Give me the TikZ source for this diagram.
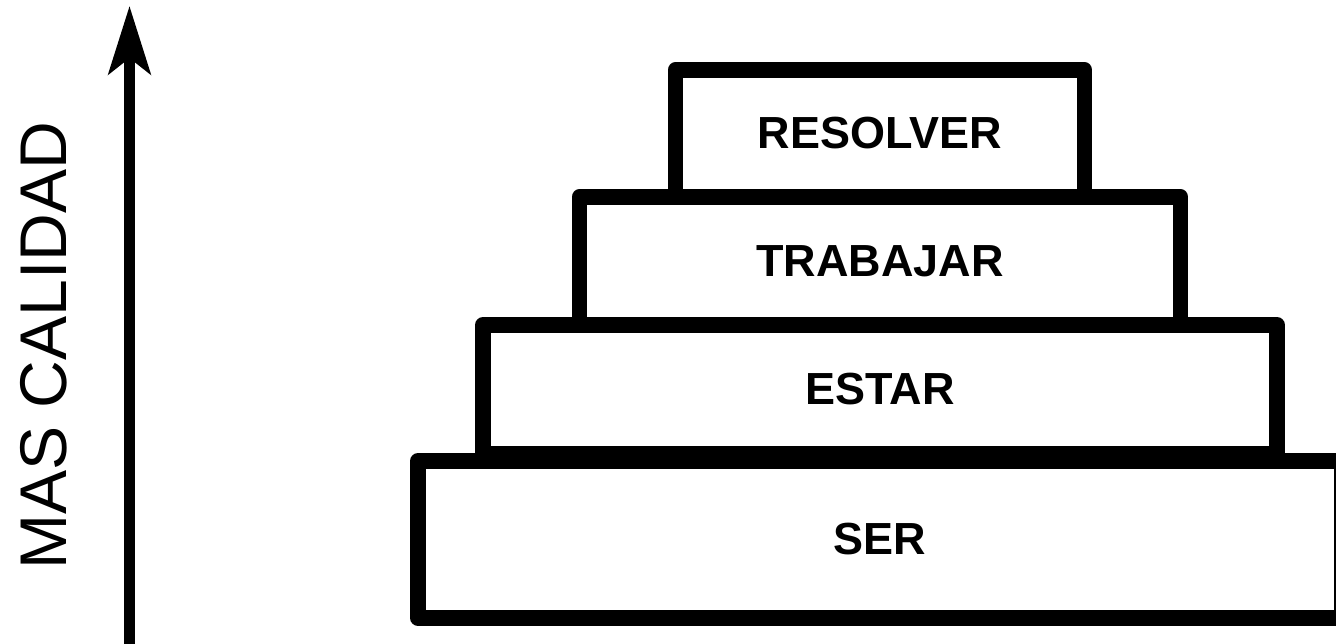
\documentclass[tikz,border=0pt]{standalone}
\usepackage{fontspec}
\setmainfont{Liberation Sans}
\usetikzlibrary{positioning,arrows.meta}

\begin{document}
\begin{tikzpicture}[>={Stealth[length=1.36cm,width=0.84cm,inset=0.32cm]},
	nivel/.style={draw, rectangle, line width=9pt, line join=round,
		outer sep=0pt, inner sep=0pt, align=center,
		font=\fontsize{25.6}{30}\selectfont\bfseries}]
	
	% page size
	\useasboundingbox (0,0) rectangle (26.72,12.88);
	
	%------------------------------
	% Quality axis
	%------------------------------
	\coordinate (base) at (2.59,0);
	\coordinate (cima) at (2.59,12.76);
	\draw[->,line width=6.2pt] (base) -- (cima);
	
	\node[rotate=90,font=\fontsize{37.6}{40}\selectfont] (calidad) at (0.88,5.96) {MAS CALIDAD};
	
	%------------------------------
	% Steps of the pyramid
	%------------------------------
	\node[nivel, minimum width=18.48cm, minimum height=3.14cm] (ser) at (17.6,2.09) {SER};
	\node[nivel, minimum width=15.88cm, minimum height=2.58cm, above=0.14cm of ser] (estar) {ESTAR};
	\node[nivel, minimum width=12.02cm, minimum height=2.56cm, above=0cm of estar] (trabajar) {TRABAJAR};
	\node[nivel, minimum width=8.18cm, minimum height=2.54cm, above=0cm of trabajar] (resolver) {RESOLVER};
	
\end{tikzpicture}
\end{document}
